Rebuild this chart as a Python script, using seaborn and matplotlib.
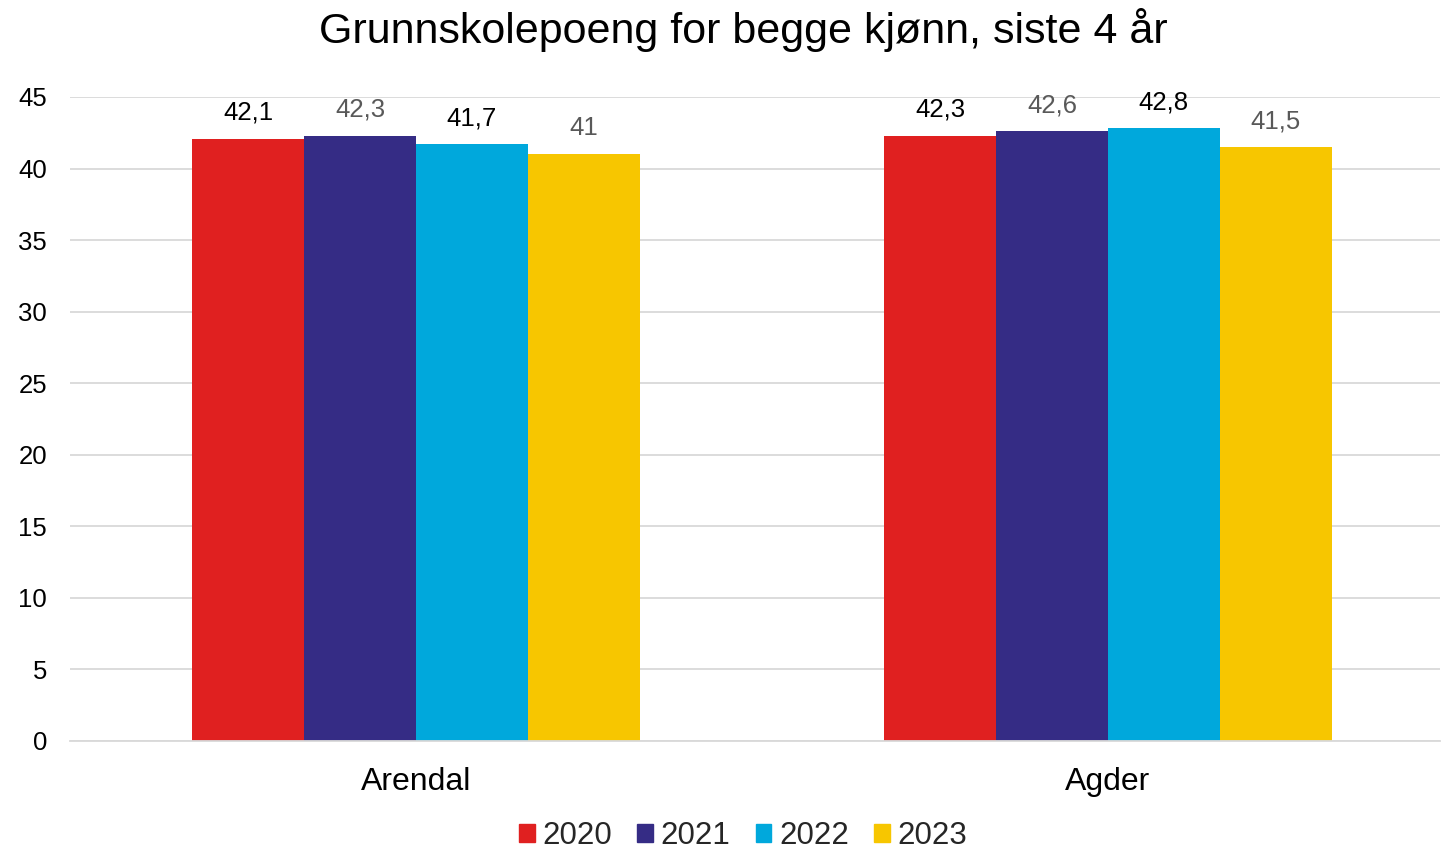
import matplotlib
matplotlib.use("Agg")
import matplotlib.pyplot as plt
import seaborn as sns
import pandas as pd

categories = ["Arendal", "Agder"]
years = ["2020", "2021", "2022", "2023"]
values_2020 = [42.1, 42.3]
values_2021 = [42.3, 42.6]
values_2022 = [41.7, 42.8]
values_2023 = [41.0, 41.5]
colors = ["#E02020", "#352C85", "#00A8DC", "#F7C600"]
label_colors = ["#000000", "#595959", "#000000", "#595959"]

rows = []
for y, vals in zip(years, [values_2020, values_2021, values_2022, values_2023]):
    for c, v in zip(categories, vals):
        rows.append({"cat": c, "year": y, "val": v})
df = pd.DataFrame(rows)

sns.set_theme(style="white")
plt.rcParams["font.family"] = ["Liberation Sans", "DejaVu Sans"]

fig = plt.figure(figsize=(14.43, 8.51), dpi=100)
ax = fig.add_axes([70 / 1443, 1 - 741 / 851, (1440 - 70) / 1443, (741 - 97) / 851])

sns.barplot(data=df, x="cat", y="val", hue="year", order=categories, hue_order=years,
            palette=colors, width=0.647, gap=0, ax=ax, saturation=1, errorbar=None,
            linewidth=0)

for cont, lc in zip(ax.containers, label_colors):
    ax.bar_label(cont, labels=[f"{v:g}".replace(".", ",") for v in cont.datavalues],
                 padding=10, fontsize=18.5, color=lc)

ax.set_ylim(0, 45)
ax.set_xlim(-0.5, 1.48)
ax.set_yticks(range(0, 46, 5))
ax.yaxis.grid(True, color="#D9D9D9", linewidth=1.3)
ax.set_axisbelow(True)
for s in ["top", "right", "left"]:
    ax.spines[s].set_visible(False)
ax.spines["bottom"].set_color("#D9D9D9")
ax.spines["bottom"].set_linewidth(1.3)
ax.tick_params(axis="y", labelsize=18.5, colors="#000000", length=0, pad=16.5)
ax.tick_params(axis="x", labelsize=23, colors="#000000", length=0, pad=19)
ax.set_xlabel("")
ax.set_ylabel("")

ax.legend_.remove()
handles = [plt.Rectangle((0, 0), 1, 1, color=c) for c in colors]
fig.legend(handles, years, loc="center", bbox_to_anchor=(0.515, 1 - 836 / 851), ncol=4,
           frameon=False, fontsize=22.5, handlelength=0.5, handleheight=0.5,
           handletextpad=0.25, columnspacing=0.8, borderpad=0)

fig.text(0.515, 1 - 30 / 851, "Grunnskolepoeng for begge kjønn, siste 4 år",
         ha="center", va="center", fontsize=31, color="#000000")

fig.savefig("out.png", dpi=100)
